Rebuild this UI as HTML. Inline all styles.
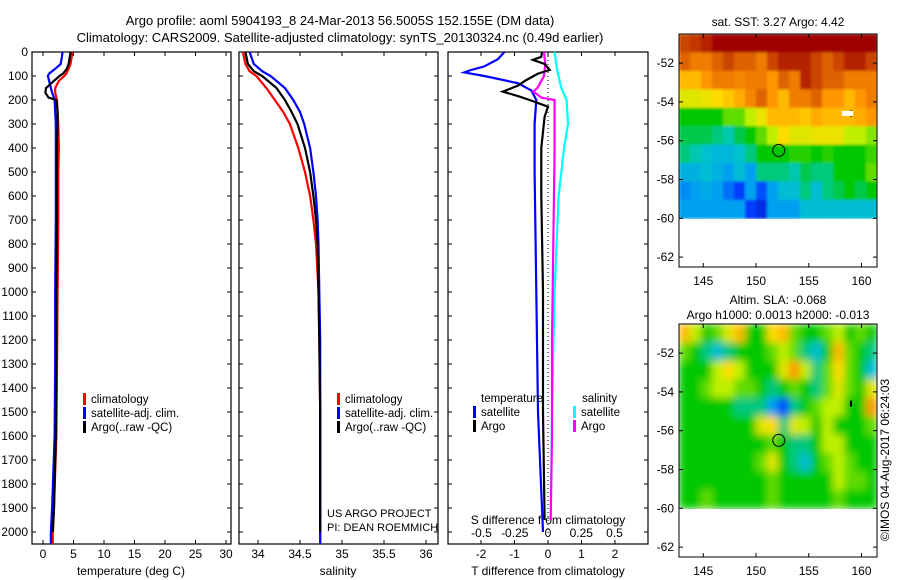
<!DOCTYPE html>
<html><head><meta charset="utf-8"><style>
body{margin:0;background:#fff;}
svg{display:block;font-family:"Liberation Sans",sans-serif;}
</style></head><body>
<svg id="c" width="900" height="580" xmlns="http://www.w3.org/2000/svg">
<defs><filter id="bl" x="0" y="0" width="1" height="1"><feGaussianBlur stdDeviation="4"/></filter>
<filter id="bl2" x="0" y="0" width="1" height="1"><feGaussianBlur stdDeviation="1.2"/></filter>
<clipPath id="cp1"><rect x="679" y="34" width="198" height="185"/></clipPath>
<clipPath id="cp2"><rect x="679" y="324" width="198" height="185"/></clipPath></defs>
<text x="340" y="25" font-size="13" text-anchor="middle">Argo profile: aoml 5904193_8 24-Mar-2013 56.5005S 152.155E (DM data)</text>
<text x="340" y="42" font-size="13" text-anchor="middle">Climatology: CARS2009. Satellite-adjusted climatology: synTS_20130324.nc (0.49d earlier)</text>
<g id="g"></g>
</svg>
<script>
// ---- data ----
const depthT=[0,20,50,70,90,100,120,150,170,190,200,250,300,400,500,700,1000,1300,1600,1900,2000,2050];
const tempClim=[4.8,4.7,4.5,4.2,3.8,3.5,2.6,2.0,2.0,2.2,2.3,2.4,2.5,2.6,2.5,2.5,2.4,2.3,2.2,1.8,1.6,1.6];
const tempSat=[3.2,3.1,2.9,2.0,1.0,0.8,1.0,1.3,1.5,1.8,1.9,2.0,2.1,2.1,2.1,2.1,2.0,2.0,1.9,1.5,1.3,1.3];
const tempArgo=[4.5,4.4,4.2,3.9,3.3,2.7,1.8,0.5,0.4,0.9,2.2,2.4,2.4,2.3,2.3,2.3,2.2,2.2,2.1,1.8,1.6,null];
const depthS=[0,50,80,100,150,200,250,300,400,500,600,700,800,1000,1200,1500,1800,2000,2050];
const salClim=[33.82,33.85,33.9,33.98,34.1,34.2,34.3,34.38,34.48,34.56,34.62,34.66,34.69,34.72,34.73,34.74,34.74,34.74,34.74];
const salSat=[33.9,33.95,34.05,34.15,34.32,34.42,34.5,34.55,34.62,34.66,34.69,34.71,34.72,34.73,34.74,34.74,34.74,34.74,34.74];
const salArgo=[33.85,33.88,33.95,34.05,34.22,34.32,34.4,34.47,34.56,34.62,34.66,34.69,34.71,34.72,34.73,34.74,34.74,34.74,null];
const dTsatDepth=[0,30,60,75,85,100,130,160,200,300,500,1000,1500,2000];
const dTsat=[-1.3,-1.5,-1.9,-2.3,-2.5,-1.9,-0.9,-0.5,-0.35,-0.4,-0.4,-0.35,-0.3,-0.15];
const dTargoDepth=[0,20,33,50,75,90,117,140,165,186,200,228,270,400,600,1000,1500,1950];
const dTargo=[-0.18,-0.2,-0.45,-0.1,0.05,-0.3,-0.65,-0.9,-1.35,-0.85,-0.55,0,-0.1,-0.2,-0.2,-0.15,-0.15,-0.1];
const dSargoDepth=[0,50,100,150,165,190,200,400,800,1200,1600,1950];
const dSargo=[-0.03,-0.02,-0.03,-0.08,-0.11,-0.05,0.05,0.05,0.04,0.03,0.03,0.02];
const dSsatDepth=[0,80,150,200,300,400,600,1000,1500,1950];
const dSsat=[0.05,0.07,0.1,0.14,0.15,0.12,0.08,0.05,0.03,0.02];
const depthTicks=[0,100,200,300,400,500,600,700,800,900,1000,1100,1200,1300,1400,1500,1600,1700,1800,1900,2000];
const tTicks=[0,5,10,15,20,25,30];
const sTicks=[34,34.5,35,35.5,36];
const dtTicks=[-2,-1,0,1,2];
const dsTicks=[-0.5,-0.25,0,0.25,0.5];
const lonTicks=[145,150,155,160];
const latTicks=[-52,-54,-56,-58,-60,-62];
const sstGrid=[
[0.9,0.92,0.95,1,1,1,1,1,1,1,1,1,1,1,1,1,1,1],
[0.85,0.8,0.8,0.85,0.9,0.85,0.85,0.8,0.9,0.95,0.95,0.95,0.9,0.85,0.9,0.95,0.95,0.9],
[0.7,0.7,0.75,0.8,0.8,0.78,0.8,0.8,0.75,0.85,0.8,0.95,0.9,0.85,0.85,0.8,0.8,0.8],
[0.6,0.6,0.62,0.65,0.68,0.72,0.78,0.85,0.75,0.7,0.8,0.8,0.85,0.75,0.75,0.7,0.75,0.8],
[0.45,0.45,0.45,0.45,0.5,0.5,0.55,0.62,0.7,0.7,0.7,0.68,0.72,0.7,0.7,0.7,0.72,0.75],
[0.42,0.42,0.42,0.4,0.38,0.42,0.45,0.5,0.55,0.65,0.6,0.6,0.62,0.62,0.62,0.55,0.55,0.52],
[0.4,0.38,0.36,0.34,0.34,0.36,0.4,0.45,0.45,0.45,0.47,0.47,0.45,0.47,0.45,0.45,0.45,0.48],
[0.33,0.33,0.35,0.33,0.3,0.35,0.3,0.4,0.4,0.4,0.38,0.42,0.4,0.4,0.45,0.45,0.45,0.5],
[0.28,0.3,0.32,0.3,0.25,0.2,0.3,0.22,0.3,0.35,0.35,0.4,0.35,0.4,0.42,0.45,0.42,0.45],
[0.3,0.3,0.3,0.3,0.3,0.3,0.2,0.15,0.3,0.3,0.3,0.35,0.35,0.35,0.35,0.35,0.35,0.35]];
const slaGrid=[
[0.7,0.55,0.45,0.5,0.6,0.7,0.45,0.45,0.65,0.7,0.5,0.45,0.45,0.5,0.55,0.45,0.5,0.45],
[0.5,0.45,0.4,0.35,0.4,0.45,0.45,0.45,0.5,0.55,0.5,0.4,0.35,0.45,0.7,0.5,0.45,0.4],
[0.45,0.45,0.45,0.55,0.65,0.55,0.45,0.45,0.45,0.6,0.75,0.55,0.4,0.5,0.65,0.5,0.45,0.35],
[0.45,0.45,0.5,0.55,0.55,0.5,0.5,0.45,0.4,0.45,0.5,0.45,0.4,0.5,0.6,0.5,0.45,0.6],
[0.45,0.45,0.45,0.45,0.45,0.4,0.4,0.4,0.3,0.2,0.4,0.45,0.5,0.55,0.55,0.45,0.45,0.75],
[0.45,0.45,0.45,0.45,0.45,0.45,0.45,0.6,0.65,0.4,0.6,0.55,0.45,0.55,0.45,0.45,0.45,0.5],
[0.45,0.45,0.45,0.45,0.45,0.45,0.45,0.45,0.5,0.45,0.4,0.4,0.45,0.55,0.55,0.45,0.45,0.45],
[0.45,0.45,0.45,0.45,0.45,0.45,0.45,0.5,0.6,0.45,0.4,0.35,0.45,0.5,0.55,0.5,0.45,0.45],
[0.45,0.45,0.45,0.45,0.45,0.45,0.45,0.45,0.5,0.45,0.45,0.45,0.45,0.45,0.55,0.5,0.5,0.45],
[0.45,0.45,0.5,0.45,0.45,0.45,0.45,0.45,0.5,0.45,0.45,0.45,0.45,0.45,0.5,0.45,0.45,0.45]];
const floatLon=152.155, floatLat=-56.5005;

// ---- helpers ----
const NS="http://www.w3.org/2000/svg", G=document.getElementById('g');
function mk(tag,at,parent){const e=document.createElementNS(NS,tag);for(const k in at)e.setAttribute(k,at[k]);(parent||G).appendChild(e);return e;}
function txt(x,y,s,anchor,size){const e=mk('text',{x:x,y:y,'font-size':size||12,'text-anchor':anchor||'start'});e.textContent=s;return e;}
const TOP=52,BOT=544;
const yD=d=>TOP+0.24*d;
const xT=t=>43+6.1*t;
const xS=s=>258+84*(s-34);
const xdT=v=>548+33.5*v;
const xdS=v=>548+133*v;
function line(depths,vals,fx,color,name){
  let p='';let pen=false;
  for(let i=0;i<depths.length;i++){if(vals[i]==null){pen=false;continue;}p+=(pen?'L':'M')+fx(vals[i]).toFixed(1)+','+yD(depths[i]).toFixed(1);pen=true;}
  const e=mk('path',{d:p,fill:'none',stroke:color,'stroke-width':2.2});
  
  
}
function panel(x0,x1,name){const r=mk('rect',{x:x0,y:TOP,width:x1-x0,height:BOT-TOP,fill:'none',stroke:'#000','stroke-width':1.2});
  
  }

panel(32,231,'temperature-panel');panel(239,438,'salinity-panel');panel(448,648,'difference-panel');
depthTicks.forEach(d=>{const y=yD(d);
  const t=txt(28,y+4,String(d),'end');
  
  
  [[32,36],[227,231],[239,243],[434,438],[448,452],[644,648]].forEach(a=>mk('line',{x1:a[0],x2:a[1],y1:y,y2:y,stroke:'#000'}));});
tTicks.forEach(t=>{const x=xT(t);mk('line',{x1:x,x2:x,y1:BOT,y2:BOT-4,stroke:'#000'});mk('line',{x1:x,x2:x,y1:TOP,y2:TOP+4,stroke:'#000'});
  const e=txt(x,558,String(t),'middle');
  
  });
sTicks.forEach(s=>{const x=xS(s);mk('line',{x1:x,x2:x,y1:BOT,y2:BOT-4,stroke:'#000'});mk('line',{x1:x,x2:x,y1:TOP,y2:TOP+4,stroke:'#000'});
  const e=txt(x,558,String(s),'middle');
  
  });
dtTicks.forEach(v=>{const x=xdT(v);mk('line',{x1:x,x2:x,y1:BOT,y2:BOT-4,stroke:'#000'});mk('line',{x1:x,x2:x,y1:TOP,y2:TOP+4,stroke:'#000'});
  const e=txt(x,558,String(v),'middle');
  
  });
dsTicks.forEach(v=>{const e=txt(xdS(v),537,String(v),'middle');
  
  });
let e;
e=txt(131,575,'temperature (deg C)','middle');
e=txt(338,575,'salinity','middle');
e=txt(548,575,'T difference from climatology','middle');
e=txt(548,524,'S difference from climatology','middle');
mk('line',{x1:548,x2:548,y1:TOP,y2:BOT,stroke:'#000','stroke-dasharray':'1,3'});

line(depthT,tempClim,xT,'#f00','temp-climatology-line');
line(depthT,tempSat,xT,'#00f','temp-satellite-line');
line(depthT,tempArgo,xT,'#000','temp-argo-line');
line(depthS,salClim,xS,'#f00','sal-climatology-line');
line(depthS,salSat,xS,'#00f','sal-satellite-line');
line(depthS,salArgo,xS,'#000','sal-argo-line');
line(dSsatDepth,dSsat,xdS,'#0ff','s-diff-satellite-line');
line(dTsatDepth,dTsat,xdT,'#00f','t-diff-satellite-line');
line(dSargoDepth,dSargo,xdS,'#f0f','s-diff-argo-line');
line(dTargoDepth,dTargo,xdT,'#000','t-diff-argo-line');

function leg(x,y,c,s){mk('rect',{x:x,y:y-10,width:3,height:12,fill:c});const t=txt(x+8,y,s,'start',11.5);
  
  }
[[83,'#f00','climatology'],[83,'#00f','satellite-adj. clim.'],[83,'#000','Argo(..raw -QC)']].forEach((a,i)=>leg(a[0],403+i*14,a[1],a[2]));
[[337,'#f00','climatology'],[337,'#00f','satellite-adj. clim.'],[337,'#000','Argo(..raw -QC)']].forEach((a,i)=>leg(a[0],403+i*14,a[1],a[2]));
txt(481,402,'temperature','start',11.5);txt(582,402,'salinity','start',11.5);
leg(473,416,'#00f','satellite');leg(473,430,'#000','Argo');leg(573,416,'#0ff','satellite');leg(573,430,'#f0f','Argo');
e=txt(327,517,'US ARGO PROJECT','start',11);
txt(327,531,'PI: DEAN ROEMMICH','start',11);

function col(v){const st=[[0,[0,0,140]],[0.2,[0,60,255]],[0.3,[0,160,240]],[0.37,[0,200,200]],[0.45,[0,200,0]],[0.55,[190,240,0]],[0.65,[255,220,0]],[0.75,[255,150,0]],[0.87,[215,90,0]],[1,[160,0,0]]];
  for(let i=1;i<st.length;i++)if(v<=st[i][0]){const a=st[i-1],b=st[i],f=(v-a[0])/(b[0]-a[0]);return 'rgb('+a[1].map((c,k)=>Math.round(c+f*(b[1][k]-c))).join(',')+')';}return 'rgb(160,0,0)';}
function map(y0,grid,name,blur,title){
  const lonX=l=>679+(l-142.7)*10.55, latY=la=>y0+(-50.5-la)*19.4;
  const g=mk('g',{'clip-path':'url(#'+(y0<100?'cp1':'cp2')+')'});
  const g2=mk('g',{filter:'url(#'+blur+')'},g);
  const rows=grid.length,cols=grid[0].length,cw=198/cols,ch=(latY(-60)-y0)/rows;
  grid.forEach((r,i)=>r.forEach((v,j)=>{const c=mk('rect',{x:(679+j*cw).toFixed(2),y:(y0+i*ch).toFixed(2),width:(cw+0.6).toFixed(2),height:(ch+0.6).toFixed(2),fill:col(v)},g2);
    
    }));
  const fr=mk('rect',{x:679,y:y0,width:198,height:233,fill:'none',stroke:'#000','stroke-width':1});
  
  
  lonTicks.forEach(l=>{const x=lonX(l);mk('line',{x1:x,x2:x,y1:y0+233,y2:y0+229,stroke:'#000'});mk('line',{x1:x,x2:x,y1:y0,y2:y0+4,stroke:'#000'});txt(x,y0+251,String(l),'middle');});
  latTicks.forEach(la=>{const y=latY(la);mk('line',{x1:679,x2:683,y1:y,y2:y,stroke:'#000'});mk('line',{x1:873,x2:877,y1:y,y2:y,stroke:'#000'});txt(674,y+4,String(la),'end');});
  mk('circle',{cx:lonX(floatLon),cy:latY(floatLat),r:6,fill:'none',stroke:'#000','stroke-width':1});
  mk('rect',{x:lonX(159)-1,y:latY(-54.6)-3,width:2,height:6,fill:'#000'});
  title.forEach((t,i)=>txt(778,y0-20+i*15+(title.length==1?12:0),t,'middle'));
}
map(34,sstGrid,'sst-map','bl2',['sat. SST: 3.27 Argo: 4.42']);
mk('rect',{x:842,y:111,width:11,height:5,fill:'#fff'});
map(324,slaGrid,'sla-map','bl',['Altim. SLA: -0.068','Argo h1000: 0.0013 h2000: -0.013']);
e=txt(0,0,'©IMOS 04-Aug-2017 06:24:03','middle');
e.setAttribute('transform','translate(889,460) rotate(-90)');


</script>
</body></html>
